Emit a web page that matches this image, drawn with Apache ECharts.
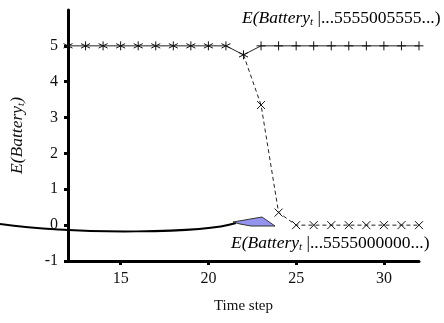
<!DOCTYPE html>
<html>
<head>
<meta charset="utf-8">
<script src="https://cdn.jsdelivr.net/npm/echarts@6/dist/echarts.min.js"></script>
<style>
  html, body { margin: 0; padding: 0; background: #fff; }
  #chart { width: 444px; height: 323px; }
</style>
</head>
<body>
<div id="chart"></div>
<script>
// observed history, then the two possible continuations
var histSteps = [12, 13, 14, 15, 16, 17, 18, 19, 20, 21, 22];
var histValues = [5, 5, 5, 5, 5, 5, 5, 5, 5, 5, 4.75];
var futureSteps = [22, 23, 24, 25, 26, 27, 28, 29, 30, 31, 32];
var resumeValues = [4.75, 5, 5, 5, 5, 5, 5, 5, 5, 5, 5];   // ...5555005555...
var stopValues = [4.75, 3.35, 0.35, 0, 0, 0, 0, 0, 0, 0, 0]; // ...5555000000...
var xTicks = [15, 20, 25, 30];
var yTicks = [-1, 0, 1, 2, 3, 4, 5];

var serif = '"Liberation Serif", "DejaVu Serif", serif';
var asterisk = 'path://M0,-5L0,5M-4.33,-2.5L4.33,2.5M-4.33,2.5L4.33,-2.5';
var plus = 'path://M0,-5L0,5M-5,0L5,0';
var cross = 'path://M-5,-5L5,5M-5,5L5,-5';

function pairs(xs, ys, skipFirst) {
  var out = [];
  for (var i = 0; i < xs.length; i++) {
    var p = { value: [xs[i], ys[i]] };
    if (skipFirst && i === 0) p.symbol = 'none';
    out.push(p);
  }
  return out;
}

var markerStyle = { color: 'none', borderColor: '#111', borderWidth: 1 };

var labelRich = {
  i: { fontFamily: serif, fontStyle: 'italic', fontSize: 17.5, color: '#111', lineHeight: 20 },
  s: { fontFamily: serif, fontStyle: 'italic', fontSize: 11, color: '#111', verticalAlign: 'bottom', padding: [9, 0, 0, 0] },
  n: { fontFamily: serif, fontSize: 17.5, color: '#111', lineHeight: 20 }
};

var chart = echarts.init(document.getElementById('chart'));
var option = {
  animation: false,
  grid: { left: 67, right: 25, top: 10, bottom: 62 },
  xAxis: {
    type: 'value',
    min: 12,
    max: 32,
    name: 'Time step',
    nameLocation: 'middle',
    nameGap: 38,
    nameTextStyle: { fontFamily: serif, fontSize: 15, color: '#111' },
    axisLine: { onZero: false, lineStyle: { color: '#000', width: 3 } },
    axisTick: { customValues: xTicks, length: 4, lineStyle: { width: 3, color: '#000' } },
    axisLabel: { customValues: xTicks, fontFamily: serif, fontSize: 16, color: '#111', margin: 10 },
    splitLine: { show: false }
  },
  yAxis: {
    type: 'value',
    min: -1,
    max: 6,
    name: '{i|E(Battery}{s|t}{i|)}',
    nameLocation: 'middle',
    nameGap: 41,
    nameRotate: 90,
    nameTextStyle: { rich: labelRich },
    axisLine: { show: true, onZero: false, lineStyle: { color: '#000', width: 3 } },
    axisTick: { show: true, customValues: yTicks, length: 4, lineStyle: { width: 3, color: '#000' } },
    axisLabel: { customValues: yTicks, fontFamily: serif, fontSize: 16, color: '#111', margin: 10 },
    splitLine: { show: false }
  },
  graphic: [
    {
      type: 'text', left: 242, top: 9, z: 10,
      style: { text: '{i|E(Battery}{s|t}{n| |...5555005555...)}', rich: labelRich }
    },
    {
      type: 'text', left: 231, top: 234, z: 10,
      style: { text: '{i|E(Battery}{s|t}{n| |...5555000000...)}', rich: labelRich }
    },
    {
      type: 'bezierCurve', z: 10,
      shape: { x1: 0, y1: 224, cpx1: 80, cpy1: 235, cpx2: 205, cpy2: 233, x2: 236, y2: 223 },
      style: { stroke: '#000', lineWidth: 2, fill: null }
    },
    {
      type: 'polygon', z: 11,
      shape: { points: [[233, 222], [262, 217], [275, 226], [251, 226], [240, 224]] },
      style: { fill: '#9494ee', stroke: '#333', lineWidth: 1 }
    }
  ],
  series: [
    {
      type: 'line',
      data: pairs(histSteps, histValues, false),
      symbol: asterisk,
      symbolSize: 9,
      itemStyle: markerStyle,
      lineStyle: { color: '#222', width: 1 }
    },
    {
      type: 'line',
      data: pairs(futureSteps, resumeValues, true),
      symbol: plus,
      symbolSize: 9,
      itemStyle: markerStyle,
      lineStyle: { color: '#222', width: 1 }
    },
    {
      type: 'line',
      data: pairs(futureSteps, stopValues, true),
      symbol: cross,
      symbolSize: 8,
      itemStyle: markerStyle,
      lineStyle: { color: '#222', width: 1, type: [4, 3] }
    }
  ]
};
chart.setOption(option);
</script>
</body>
</html>
